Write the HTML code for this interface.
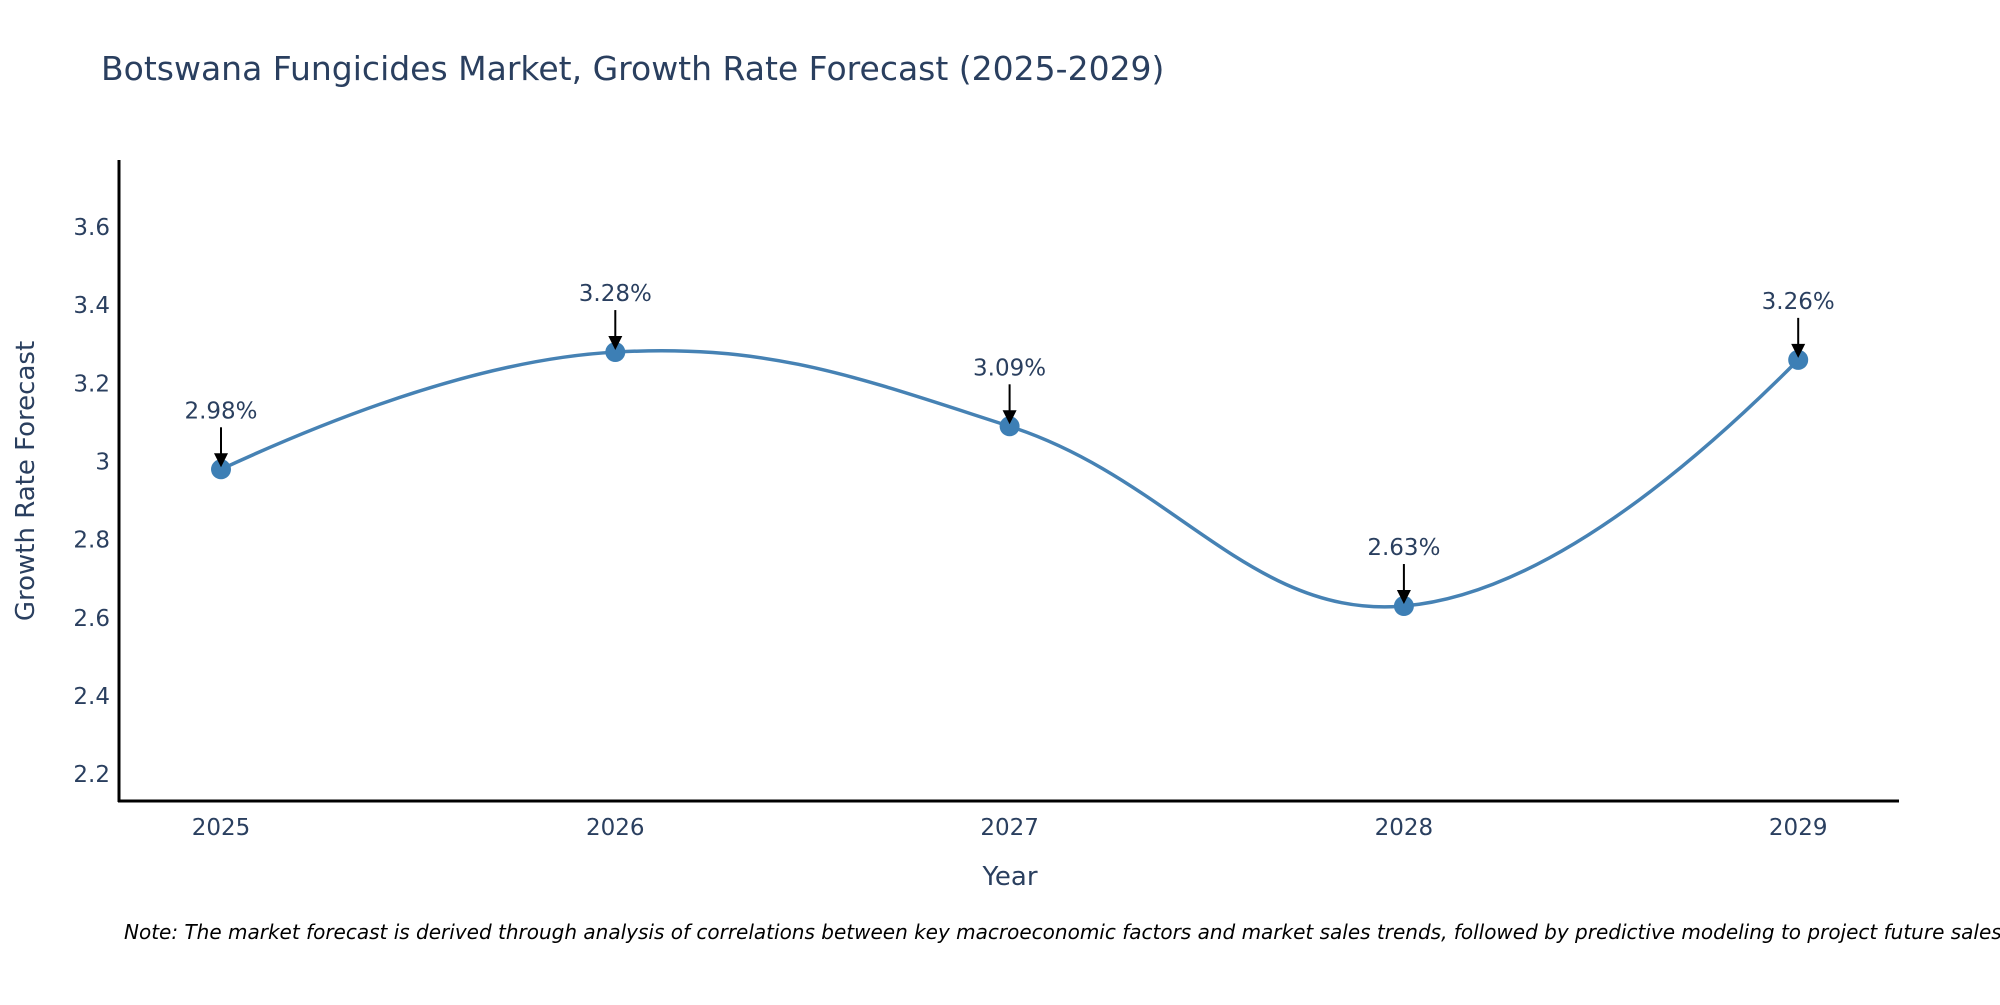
<!DOCTYPE html>
<html><head><meta charset="utf-8"><style>
body{margin:0;background:#fff;}
svg text{font-family:"DejaVu Sans","Liberation Sans",sans-serif;}
</style></head><body>
<svg id="chart" width="2000" height="1000" viewBox="0 0 2000 1000" xmlns="http://www.w3.org/2000/svg">
<rect width="2000" height="1000" fill="#fff"/>
<text x="101" y="80" font-size="33" fill="#2a3f5f">Botswana Fungicides Market, Growth Rate Forecast (2025-2029)</text>
<g id="yticks"></g>
<g id="xticks"></g>
<line x1="119" y1="160" x2="119" y2="802" stroke="#000" stroke-width="3"/>
<line x1="118" y1="801" x2="1899" y2="801" stroke="#000" stroke-width="3"/>
<path id="line" fill="none" stroke="#4682b4" stroke-width="3.5"/>
<g id="points"></g>
<g id="annots"></g>
<text x="1010" y="885" font-size="26" fill="#2a3f5f" text-anchor="middle">Year</text>
<text transform="translate(34,481) rotate(-90)" font-size="26" fill="#2a3f5f" text-anchor="middle">Growth Rate Forecast</text>
<text x="124" y="939" font-size="20" font-style="italic" fill="#000">Note: The market forecast is derived through analysis of correlations between key macroeconomic factors and market sales trends, followed by predictive modeling to project future sales.</text>
</svg>
<script>
const years = ["2025","2026","2027","2028","2029"];
const values = [2.98, 3.28, 3.09, 2.63, 3.26];
const labels = ["2.98%","3.28%","3.09%","2.63%","3.26%"];
const yTicks = [2.2, 2.4, 2.6, 2.8, 3, 3.2, 3.4, 3.6];
const yTickLabels = ["2.2","2.4","2.6","2.8","3","3.2","3.4","3.6"];

const NS="http://www.w3.org/2000/svg";
const x0=221, dx=394.3;
function xs(i){return x0+i*dx;}
const yMin=2.131, yMax=3.769, pTop=161, pBot=801;
function ys(v){return pBot-(v-yMin)/(yMax-yMin)*(pBot-pTop);}
function mk(tag,attrs,parent){const e=document.createElementNS(NS,tag);for(const k in attrs)e.setAttribute(k,attrs[k]);parent.appendChild(e);return e;}

const yt=document.getElementById('yticks');
yTicks.forEach((v,i)=>{
  const t=mk('text',{x:110,y:ys(v)+8,'font-size':23,fill:'#2a3f5f','text-anchor':'end'},yt);
  
  
  t.textContent=yTickLabels[i];
});
const xt=document.getElementById('xticks');
years.forEach((y,i)=>{
  const t=mk('text',{x:xs(i),y:835,'font-size':23,fill:'#2a3f5f','text-anchor':'middle'},xt);
  
  
  t.textContent=y;
});

const pts=values.map((v,i)=>[xs(i),ys(v)]);
let d="M"+pts[0][0]+","+pts[0][1];
const ctrl=[];
for(let i=1;i<pts.length-1;i++){
  const p0=pts[i-1],p1=pts[i],p2=pts[i+1];
  const d1=Math.hypot(p1[0]-p0[0],p1[1]-p0[1]), d2=Math.hypot(p2[0]-p1[0],p2[1]-p1[1]);
  const f0=0.4*d1/(d1+d2), f1=0.4*d2/(d1+d2);
  const vx=p2[0]-p0[0], vy=p2[1]-p0[1];
  ctrl.push([[p1[0]-f0*vx,p1[1]-f0*vy],[p1[0]+f1*vx,p1[1]+f1*vy]]);
}
const n=pts.length;
d+=" Q"+ctrl[0][0][0]+","+ctrl[0][0][1]+" "+pts[1][0]+","+pts[1][1];
for(let i=2;i<n-1;i++){
  d+=" C"+ctrl[i-2][1][0]+","+ctrl[i-2][1][1]+" "+ctrl[i-1][0][0]+","+ctrl[i-1][0][1]+" "+pts[i][0]+","+pts[i][1];
}
d+=" Q"+ctrl[n-3][1][0]+","+ctrl[n-3][1][1]+" "+pts[n-1][0]+","+pts[n-1][1];
document.getElementById('line').setAttribute('d',d);

const pg=document.getElementById('points'), ag=document.getElementById('annots');
pts.forEach((p,i)=>{
  const c=mk('circle',{cx:p[0],cy:p[1],r:10,fill:'#3d7fb5'},pg);
  
  
  const l=mk('line',{x1:p[0],y1:p[1]-42,x2:p[0],y2:p[1]-14,stroke:'#000','stroke-width':2},ag);
  
  
  const h=mk('polygon',{points:`${p[0]-7},${p[1]-16} ${p[0]+7},${p[1]-16} ${p[0]},${p[1]-2}`,fill:'#000'},ag);
  
  
  const t=mk('text',{x:p[0],y:p[1]-51,'font-size':23,fill:'#2a3f5f','text-anchor':'middle'},ag);
  
  
  t.textContent=labels[i];
});
</script>
</body></html>
